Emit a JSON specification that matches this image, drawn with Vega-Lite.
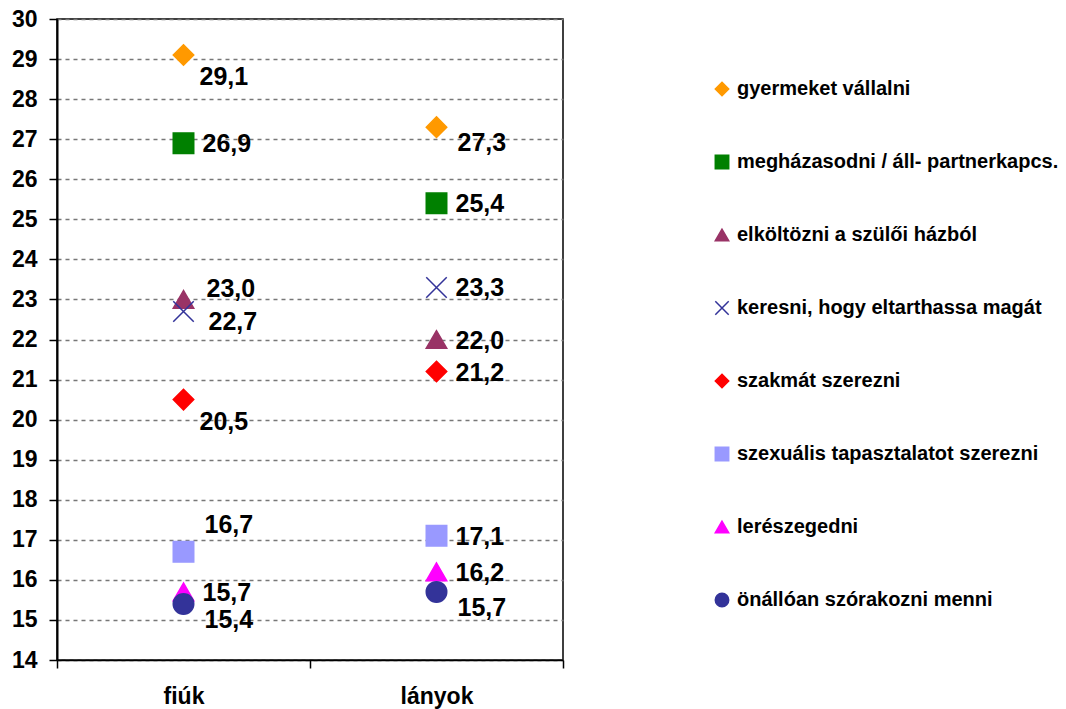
{
  "$schema": "https://vega.github.io/schema/vega-lite/v6.json",
  "autosize": {"type": "none"},
  "width": 506,
  "height": 641,
  "padding": {"left": 57, "top": 19, "right": 503, "bottom": 49},
  "background": "white",
  "config": {
    "locale": {"number": {"decimal": ",", "thousands": " ", "grouping": [3], "currency": ["", " Ft"]}},
    "view": {"stroke": "black", "strokeWidth": 1.5},
    "font": "Liberation Sans"
  },
  "data": {
    "values": [
      {"group": "fiúk", "series": "gyermeket vállalni", "value": 29.1},
      {"group": "lányok", "series": "gyermeket vállalni", "value": 27.3},
      {"group": "fiúk", "series": "megházasodni / áll- partnerkapcs.", "value": 26.9},
      {"group": "lányok", "series": "megházasodni / áll- partnerkapcs.", "value": 25.4},
      {"group": "fiúk", "series": "elköltözni a szülői házból", "value": 23.0},
      {"group": "lányok", "series": "elköltözni a szülői házból", "value": 22.0},
      {"group": "fiúk", "series": "keresni, hogy eltarthassa magát", "value": 22.7},
      {"group": "lányok", "series": "keresni, hogy eltarthassa magát", "value": 23.3},
      {"group": "fiúk", "series": "szakmát szerezni", "value": 20.5},
      {"group": "lányok", "series": "szakmát szerezni", "value": 21.2},
      {"group": "fiúk", "series": "szexuális tapasztalatot szerezni", "value": 16.7},
      {"group": "lányok", "series": "szexuális tapasztalatot szerezni", "value": 17.1},
      {"group": "fiúk", "series": "lerészegedni", "value": 15.7},
      {"group": "lányok", "series": "lerészegedni", "value": 16.2},
      {"group": "fiúk", "series": "önállóan szórakozni menni", "value": 15.4},
      {"group": "lányok", "series": "önállóan szórakozni menni", "value": 15.7}
    ]
  },
  "encoding": {
    "x": {
      "field": "group", "type": "nominal", "sort": ["fiúk", "lányok"],
      "scale": {"paddingInner": 0, "paddingOuter": 0},
      "axis": {
        "title": null, "labelAngle": 0, "tickBand": "extent", "tickSize": 8,
        "tickColor": "black", "tickWidth": 1.5, "domainColor": "black", "domainWidth": 1.5,
        "labelFont": "Liberation Sans", "labelFontWeight": "bold", "labelFontSize": 23,
        "labelColor": "black", "labelPadding": 17
      }
    },
    "y": {
      "field": "value", "type": "quantitative",
      "scale": {"domain": [14, 30], "nice": false, "zero": false},
      "axis": {
        "title": null, "values": [14,15,16,17,18,19,20,21,22,23,24,25,26,27,28,29,30],
        "tickSize": 8, "tickColor": "black", "tickWidth": 1.5,
        "domainColor": "black", "domainWidth": 2,
        "labelFont": "Liberation Sans", "labelFontWeight": "bold", "labelFontSize": 23,
        "labelColor": "black", "labelPadding": 12,
        "grid": true, "gridColor": "#777777", "gridDash": [4, 4], "gridWidth": 1.4
      }
    }
  },
  "layer": [
    {
      "mark": {"type": "point", "opacity": 1, "strokeWidth": 1.5, "size": 420},
      "encoding": {
        "shape": {
          "field": "series", "type": "nominal",
          "scale": {
            "domain": ["gyermeket vállalni", "megházasodni / áll- partnerkapcs.", "elköltözni a szülői házból", "keresni, hogy eltarthassa magát", "szakmát szerezni", "szexuális tapasztalatot szerezni", "lerészegedni", "önállóan szórakozni menni"],
            "range": ["diamond", "square", "triangle-up", "M-1,-1L1,1M-1,1L1,-1", "diamond", "square", "triangle-up", "circle"]
          }
        },
        "fill": {
          "field": "series", "type": "nominal",
          "scale": {
            "domain": ["gyermeket vállalni", "megházasodni / áll- partnerkapcs.", "elköltözni a szülői házból", "keresni, hogy eltarthassa magát", "szakmát szerezni", "szexuális tapasztalatot szerezni", "lerészegedni", "önállóan szórakozni menni"],
            "range": ["#FF9900", "#008000", "#993366", "transparent", "#FF0000", "#9999FF", "#FF00FF", "#333399"]
          }
        },
        "stroke": {
          "field": "series", "type": "nominal",
          "scale": {
            "domain": ["gyermeket vállalni", "megházasodni / áll- partnerkapcs.", "elköltözni a szülői házból", "keresni, hogy eltarthassa magát", "szakmát szerezni", "szexuális tapasztalatot szerezni", "lerészegedni", "önállóan szórakozni menni"],
            "range": ["#FF9900", "#008000", "#993366", "#333399", "#FF0000", "#9999FF", "#FF00FF", "#333399"]
          },
          "legend": {
            "title": null, "orient": "none", "legendX": 655, "legendY": 60,
            "labelFont": "Liberation Sans", "labelFontWeight": "bold", "labelFontSize": 20,
            "labelColor": "black", "labelLimit": 400, "labelOffset": 5,
            "symbolSize": 180, "symbolStrokeWidth": 1.5, "rowPadding": 53
          }
        }
      }
    },
    {
      "transform": [{"filter": "!((datum.group == 'fiúk' && (datum.series == 'gyermeket vállalni' || datum.series == 'szakmát szerezni' || datum.series == 'önállóan szórakozni menni' || datum.series == 'keresni, hogy eltarthassa magát' || datum.series == 'elköltözni a szülői házból' || datum.series == 'szexuális tapasztalatot szerezni')) || (datum.group == 'lányok' && (datum.series == 'gyermeket vållalni' || datum.series == 'gyermeket vállalni' || datum.series == 'önállóan szórakozni menni')))"}],
      "mark": {"type": "text", "align": "left", "baseline": "middle", "dx": 19, "dy": 1, "fontSize": 25, "fontWeight": "bold", "font": "Liberation Sans", "color": "black"},
      "encoding": {"text": {"field": "value", "type": "quantitative", "format": ".1f"}}
    },
    {
      "transform": [{"filter": "datum.group == 'fiúk' && (datum.series == 'gyermeket vállalni' || datum.series == 'szakmát szerezni')"}],
      "mark": {"type": "text", "align": "left", "baseline": "middle", "dx": 16, "dy": 22, "fontSize": 25, "fontWeight": "bold", "font": "Liberation Sans", "color": "black"},
      "encoding": {"text": {"field": "value", "type": "quantitative", "format": ".1f"}}
    },
    {
      "transform": [{"filter": "(datum.group == 'fiúk' && datum.series == 'önállóan szórakozni menni') || (datum.group == 'lányok' && (datum.series == 'gyermeket vállalni' || datum.series == 'önállóan szórakozni menni'))"}],
      "mark": {"type": "text", "align": "left", "baseline": "middle", "dx": 21, "dy": 16, "fontSize": 25, "fontWeight": "bold", "font": "Liberation Sans", "color": "black"},
      "encoding": {"text": {"field": "value", "type": "quantitative", "format": ".1f"}}
    },
    {
      "transform": [{"filter": "datum.group == 'fiúk' && datum.series == 'keresni, hogy eltarthassa magát'"}],
      "mark": {"type": "text", "align": "left", "baseline": "middle", "dx": 25, "dy": 11, "fontSize": 25, "fontWeight": "bold", "font": "Liberation Sans", "color": "black"},
      "encoding": {"text": {"field": "value", "type": "quantitative", "format": ".1f"}}
    },
    {
      "transform": [{"filter": "datum.group == 'fiúk' && datum.series == 'elköltözni a szülői házból'"}],
      "mark": {"type": "text", "align": "left", "baseline": "middle", "dx": 23, "dy": -10, "fontSize": 25, "fontWeight": "bold", "font": "Liberation Sans", "color": "black"},
      "encoding": {"text": {"field": "value", "type": "quantitative", "format": ".1f"}}
    },
    {
      "transform": [{"filter": "datum.group == 'fiúk' && datum.series == 'szexuális tapasztalatot szerezni'"}],
      "mark": {"type": "text", "align": "left", "baseline": "middle", "dx": 21, "dy": -27, "fontSize": 25, "fontWeight": "bold", "font": "Liberation Sans", "color": "black"},
      "encoding": {"text": {"field": "value", "type": "quantitative", "format": ".1f"}}
    }
  ]
}
